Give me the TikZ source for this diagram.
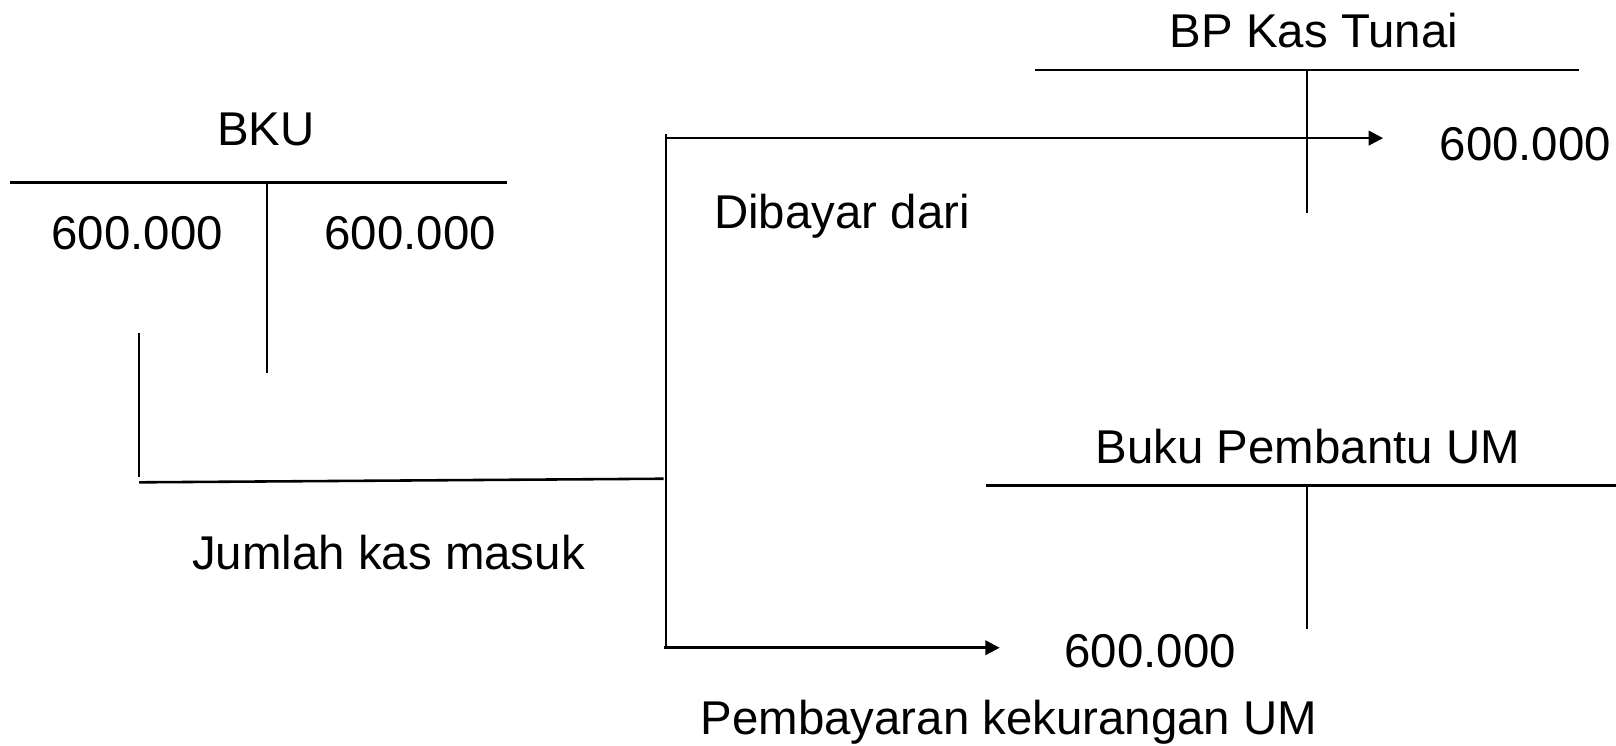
\documentclass[tikz,border=0pt]{standalone}
\usepackage{fontspec}
\setmainfont{Liberation Sans}
\usetikzlibrary{arrows.meta}
\begin{document}
\begin{tikzpicture}[x=1pt,y=-1pt,
  lbl/.style={inner sep=0pt, anchor=base, font=\fontsize{46}{50}\selectfont},
  hrule/.style={line width=2.5pt},
  vrule/.style={line width=1.9pt},
  flow/.style={line width=2.5pt, -{Triangle[length=14pt,width=14pt]}}]
\useasboundingbox (0,0) rectangle (1568,723);

% BKU T-account
\node[lbl] (bku) at (258,141) {BKU};
\coordinate (bkuL) at (10,177);
\coordinate (bkuR) at (492,177);
\coordinate (bkuT) at (259,177);
\coordinate (bkuB) at (259,362);
\draw[hrule] (bkuL) -- (bkuR);
\draw[vrule] (bkuT) -- (bkuB);
\node[lbl] (bkuDr) at (133,242) {600.000};
\node[lbl] (bkuCr) at (398,242) {600.000};

% cash received, carried over to the distribution trunk
\coordinate (inTop) at (135,323);
\coordinate (inBot) at (135,463);
\coordinate (inL) at (135,468);
\coordinate (inR) at (644,464.5);
\draw[vrule] (inTop) -- (inBot);
\draw[hrule] (inL) -- (inR);
\node[lbl] (jumlah) at (377,553) {Jumlah kas masuk};

% distribution trunk
\coordinate (trTop) at (646,130);
\coordinate (trBot) at (646,627);
\draw[vrule] (trTop) -- (trBot);

% BP Kas Tunai T-account
\node[lbl] (bpkas) at (1275,46) {BP Kas Tunai};
\coordinate (bpL) at (1004,68);
\coordinate (bpR) at (1532,68);
\coordinate (bpT) at (1268,68);
\coordinate (bpB) at (1268,207);
\draw[hrule] (bpL) -- (bpR);
\draw[vrule] (bpT) -- (bpB);
\node[lbl] (bpCr) at (1480,156) {600.000};

% Buku Pembantu UM T-account
\node[lbl] (bpum) at (1269,450) {Buku Pembantu UM};
\coordinate (umL) at (957,471);
\coordinate (umR) at (1568,471);
\coordinate (umT) at (1268,471);
\coordinate (umB) at (1268,610);
\draw[hrule] (umL) -- (umR);
\draw[vrule] (umT) -- (umB);
\node[lbl] (umDr) at (1116,648) {600.000};

% flows out of the trunk
\coordinate (aTop) at (646,134);
\coordinate (aTopEnd) at (1342,134);
\draw[flow] (aTop) -- (aTopEnd);
\node[lbl] (dibayar) at (817,222) {Dibayar dari};

\coordinate (aBot) at (644,628.5);
\coordinate (aBotEnd) at (970,628.5);
\draw[flow] (aBot) -- (aBotEnd);
\node[lbl] (pembayaran) at (979,713) {Pembayaran kekurangan UM};
\end{tikzpicture}
\end{document}
